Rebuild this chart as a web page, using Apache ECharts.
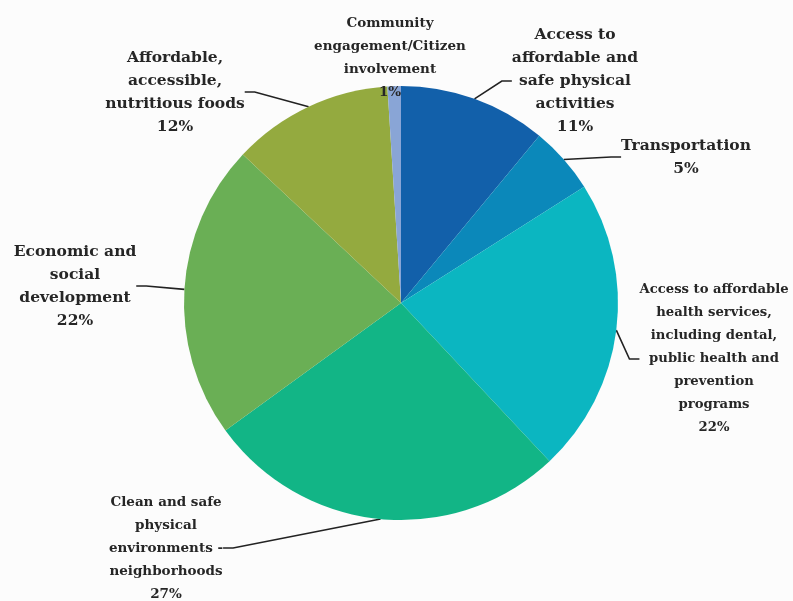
<!DOCTYPE html>
<html>
<head>
<meta charset="utf-8">
<script src="https://cdn.jsdelivr.net/npm/echarts@6/dist/echarts.min.js"></script>
<style>
  html, body { margin: 0; padding: 0; background: #fcfcfc; }
  #chart { width: 793px; height: 601px; }
</style>
</head>
<body>
<div id="chart"></div>
<script>
// Priority areas, listed clockwise from 12 o'clock
const categories = [
  'Access to\naffordable and\nsafe physical\nactivities',
  'Transportation',
  'Access to affordable\nhealth services,\nincluding dental,\npublic health and\nprevention\nprograms',
  'Clean and safe\nphysical\nenvironments -\nneighborhoods',
  'Economic and\nsocial\ndevelopment',
  'Affordable,\naccessible,\nnutritious foods',
  'Community\nengagement/Citizen\ninvolvement'
];
const shares = [11, 5, 22, 27, 22, 12, 1];
const sliceColors = ['#1260aa', '#0b88ba', '#0bb6c1', '#12b586', '#6aaf55', '#94aa3f', '#89a5d6'];
// label font size and anchor (centre of the text block) for each slice
const labelSizes = [15.5, 15.5, 13.2, 13.5, 15.5, 15.5, 13.5];
const labelAnchors = [[575, 81], [686, 157], [714, 359], [166, 548], [75, 286], [175, 92], [390, 58]];

const chart = echarts.init(document.getElementById('chart'), null, { renderer: 'canvas' });

chart.setOption({
  backgroundColor: '#fcfcfc',
  animation: false,
  series: [{
    type: 'pie',
    center: [401, 303],
    radius: 217,
    startAngle: 90,
    clockwise: true,
    silent: true,
    data: categories.map((name, i) => ({
      name: name,
      value: shares[i],
      itemStyle: { color: sliceColors[i] },
      label: { fontSize: labelSizes[i], lineHeight: 23 }
    })),
    label: {
      show: true,
      formatter: '{b}\n{c}%',
      fontFamily: 'DejaVu Serif',
      fontWeight: 'bold',
      color: '#262626',
      align: 'center',
      overflow: 'none'
    },
    labelLine: {
      show: true,
      length: 10,
      length2: 10,
      lineStyle: { color: '#222222', width: 1.6 }
    },
    labelLayout: function (p) {
      const a = labelAnchors[p.dataIndex];
      return {
        x: a[0],
        y: a[1],
        align: 'center',
        verticalAlign: 'middle',
        hideOverlap: false
      };
    }
  }]
});
</script>
</body>
</html>
